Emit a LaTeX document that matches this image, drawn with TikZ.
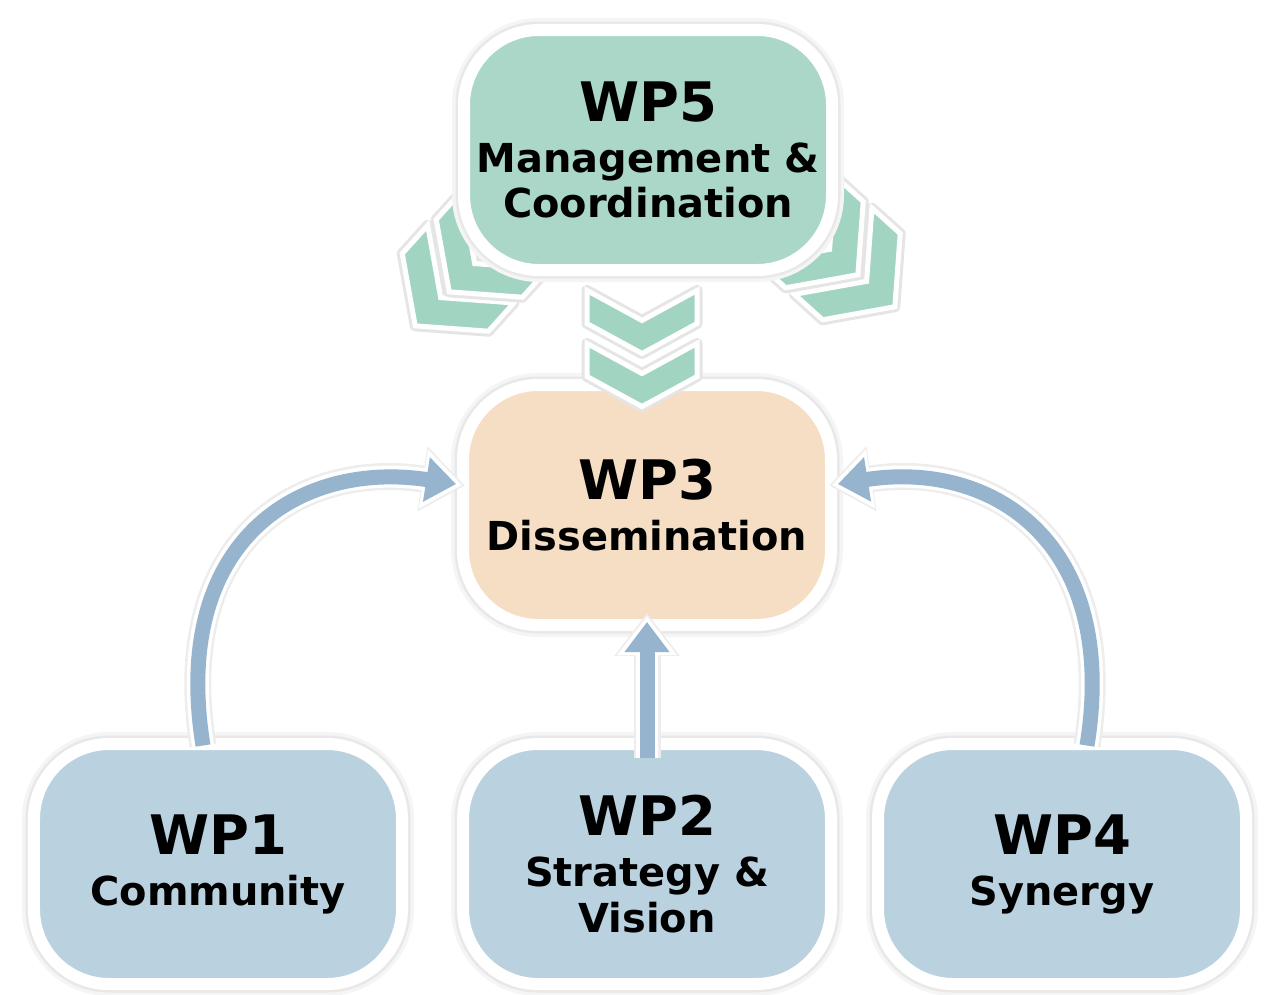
\documentclass[tikz,border=0pt]{standalone}
\usepackage{fontspec}
\setmainfont{DejaVu Sans}
\usetikzlibrary{arrows.meta}
\definecolor{wpgreen}{RGB}{170,215,199}
\definecolor{chevgreen}{RGB}{162,212,194}
\definecolor{wppeach}{RGB}{245,222,196}
\definecolor{wpblue}{RGB}{186,209,224}
\definecolor{arrowblue}{RGB}{150,180,205}
\newcommand\wptitle{\fontsize{31}{34}\selectfont}
\newcommand\wpsub{\fontsize{22.7}{26}\selectfont\bfseries}
\begin{document}
\begin{tikzpicture}[x=0.2mm,y=-0.2mm,line join=round]
    \tikzset{wpbox/.style={rectangle,rounded corners=15mm,draw=white,line width=2.4mm,
            minimum width=73.6mm,minimum height=48mm,align=center,font=\wpsub,
            preaction={draw=black!4,line width=4.8mm},
            preaction={draw=black!9,line width=3.4mm}},
        chevron/.style={fill=chevgreen,draw=white,line width=1mm,line join=miter,
            preaction={draw=black!10,line width=2.2mm,line join=round}},
        arrowshadow/.style={draw=black!7,line width=5.4mm,shorten >=-0.6mm,-{Triangle[length=8.6mm,width=12.6mm]}},
        arrowedge/.style={draw=white,line width=4.4mm,-{Triangle[length=7.8mm,width=11.4mm]}},
        arrowfill/.style={draw=arrowblue,line width=3mm,shorten >=1.2mm,-{Triangle[length=6mm,width=8.6mm]}}}
    \useasboundingbox (0,0) rectangle (1266,994);
    % work packages
    \node[wpbox,fill=wppeach] (wp3) at (647,505) {{\wptitle WP3}\\[3pt] Dissemination};
    \node[wpbox,fill=wpblue] (wp1) at (218,864) {{\wptitle WP1}\\[3pt] Community};
    \node[wpbox,fill=wpblue] (wp2) at (647,864) {{\wptitle WP2}\\[3pt] Strategy \&\\ Vision};
    \node[wpbox,fill=wpblue] (wp4) at (1062,864) {{\wptitle WP4}\\[3pt] Synergy};
    % arrows into WP3
    \foreach \sty in {arrowshadow,arrowedge,arrowfill}{
        \draw[\sty] ([xshift=-3mm,yshift=-1.5mm]wp1.north) .. controls (170,540) and (300,460) .. ([xshift=1mm,yshift=4mm]wp3.west);
        \draw[\sty] ([xshift=5mm,yshift=-1.5mm]wp4.north) .. controls (1120,540) and (990,460) .. ([xshift=-1mm,yshift=4mm]wp3.east);
        \draw[\sty] ([yshift=-4mm]wp2.north) -- ([yshift=3mm]wp3.south);
    }
    % chevrons below WP5
    \foreach \cx/\cy/\ang/\cw/\cd/\ct in {443/295/-42/58/45/38,477/261/-42/58/45/38,
        864/279/48/58/45/38,827/247/48/58/45/38,642/375/0/55/30/33,642/322/0/55/30/33}
    \draw[chevron,shift={(\cx,\cy)},rotate=\ang,shift={(0,-\cd/2-\ct/2)}]
        (-\cw,0)--(0,\cd)--(\cw,0)--(\cw,\ct)--(0,\cd+\ct)--(-\cw,\ct)--cycle;
    \node[wpbox,fill=wpgreen] (wp5) at (648,150) {{\wptitle WP5}\\[3pt] Management \&\\ Coordination};
\end{tikzpicture}
\end{document}
